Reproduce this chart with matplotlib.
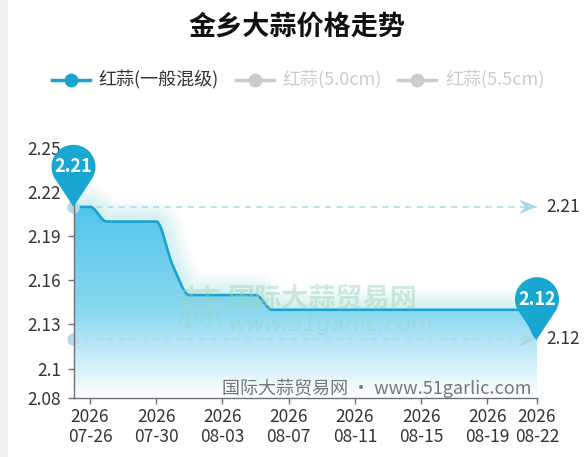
import numpy as np
import pandas as pd
import matplotlib
matplotlib.use('Agg')
import matplotlib.pyplot as plt
import matplotlib.dates as mdates
import matplotlib.transforms as mtransforms
from matplotlib.path import Path
from matplotlib.patches import PathPatch, Polygon, Rectangle
from matplotlib.colors import LinearSegmentedColormap

plt.rcParams['font.family'] = ['Noto Sans CJK SC', 'DejaVu Sans']

# ---------------- data ----------------
title = "金乡大蒜价格走势"
series_names = ["红蒜(一般混级)", "红蒜(5.0cm)", "红蒜(5.5cm)"]
dates = ["2026-07-25", "2026-07-26", "2026-07-27", "2026-07-28", "2026-07-29",
         "2026-07-30", "2026-07-31", "2026-08-01", "2026-08-02", "2026-08-03",
         "2026-08-04", "2026-08-05", "2026-08-06", "2026-08-07", "2026-08-08",
         "2026-08-09", "2026-08-10", "2026-08-11", "2026-08-12", "2026-08-13",
         "2026-08-14", "2026-08-15", "2026-08-16", "2026-08-17", "2026-08-18",
         "2026-08-19", "2026-08-20", "2026-08-21", "2026-08-22"]
prices = [2.21, 2.21, 2.20, 2.20, 2.20, 2.20, 2.17, 2.15, 2.15, 2.15,
          2.15, 2.15, 2.14, 2.14, 2.14, 2.14, 2.14, 2.14, 2.14, 2.14,
          2.14, 2.14, 2.14, 2.14, 2.14, 2.14, 2.14, 2.14, 2.12]
xtick_dates = ["2026-07-26", "2026-07-30", "2026-08-03", "2026-08-07",
               "2026-08-11", "2026-08-15", "2026-08-19", "2026-08-22"]
yticks = [2.08, 2.1, 2.13, 2.16, 2.19, 2.22, 2.25]
ytick_labels = ["2.08", "2.1", "2.13", "2.16", "2.19", "2.22", "2.25"]
watermark_cn = "国际大蒜贸易网"
watermark_url = "www.51garlic.com"
source_text = "国际大蒜贸易网 • www.51garlic.com"

# ---------------- styles ----------------
W, H = 588, 457
LINE_C = '#1aa3cc'
PIN_C = '#17a7d0'
MARK_C = '#a9d9e8'
INACTIVE = '#cccccc'

fig = plt.figure(figsize=(W / 100, H / 100), dpi=100)
fig.patch.set_facecolor('white')

def fx(x):
    return x / W

def fy(y):
    return 1 - y / H

ax = fig.add_axes([fx(73.5), fy(398), fx(537) - fx(73.5), fy(148) - fy(398)])
ax.set_facecolor('none')

x = mdates.date2num(pd.to_datetime(dates))
y = np.array(prices)

# monotone cubic (PCHIP) smoothing
def pchip(xk, yk, xn):
    xk = np.asarray(xk, float); yk = np.asarray(yk, float)
    h = np.diff(xk); d = np.diff(yk) / h
    n = len(xk)
    m = np.zeros(n)
    for k in range(1, n - 1):
        if d[k - 1] * d[k] > 0:
            w1 = 2 * h[k] + h[k - 1]
            w2 = h[k] + 2 * h[k - 1]
            m[k] = (w1 + w2) / (w1 / d[k - 1] + w2 / d[k])
    m[0] = 0.0
    m[-1] = d[-1] * 0.5
    idx = np.clip(np.searchsorted(xk, xn) - 1, 0, n - 2)
    t = (xn - xk[idx]) / h[idx]
    h00 = 2 * t**3 - 3 * t**2 + 1
    h10 = t**3 - 2 * t**2 + t
    h01 = -2 * t**3 + 3 * t**2
    h11 = t**3 - t**2
    return h00 * yk[idx] + h10 * h[idx] * m[idx] + h01 * yk[idx + 1] + h11 * h[idx] * m[idx + 1]

xs = np.linspace(x[0], x[-1], 1500)
ys = pchip(x, y, xs)

ymin, ymax = 2.08, 2.25

# soft glow around line (drawn first, under fill)
for lw in np.arange(4, 34, 2):
    ax.plot(xs, ys, color='#7fd4ee', lw=lw, alpha=0.022,
            solid_capstyle='round', solid_joinstyle='round', zorder=1)

# gradient area fill
cmap = LinearSegmentedColormap.from_list(
    'area', [(0.0, '#50c5ea'), (0.55, '#8ad8f1'), (1.0, '#ffffff')])
grad = np.linspace(0, 1, 256).reshape(-1, 1)
im = ax.imshow(grad, extent=[x[0], x[-1], ymin, y.max()], aspect='auto',
               cmap=cmap, origin='upper', zorder=2, interpolation='bicubic')
verts = np.column_stack([np.r_[xs, x[-1], x[0]], np.r_[ys, ymin, ymin]])
clip = Polygon(verts, closed=True, facecolor='none', edgecolor='none',
               transform=ax.transData)
ax.add_patch(clip)
im.set_clip_path(clip)

ax.plot(xs, ys, color=LINE_C, lw=1.9, zorder=4, solid_capstyle='round')

ax.set_xlim(x[0], x[-1])
ax.set_ylim(ymin, ymax)

# axes styling
for s in ['top', 'right']:
    ax.spines[s].set_visible(False)
for s in ['left', 'bottom']:
    ax.spines[s].set_color('#6e7079')
    ax.spines[s].set_linewidth(1.0)
    ax.spines[s].set_zorder(6)
ax.set_yticks(yticks)
ax.set_yticklabels(ytick_labels)
xt = mdates.date2num(pd.to_datetime(xtick_dates))
ax.set_xticks(xt)
ax.set_xticklabels([d[:4] + "\n" + d[5:] for d in xtick_dates], linespacing=1.15)
ax.tick_params(axis='both', colors='#6e7079', labelcolor='#333333',
               labelsize=12.5, length=4, width=1)
ax.tick_params(axis='y', pad=5)
ax.tick_params(axis='x', pad=3)

fig.canvas.draw()

def disp(xv, yv):
    return ax.transData.transform((xv, yv))

# mark lines (max / min)
imax = int(np.argmax(y)); imin = int(len(y) - 1 - np.argmin(y[::-1]))
for val in [y.max(), y.min()]:
    ax.plot([x[0], x[-1]], [val, val], color=MARK_C, lw=1.1,
            dashes=(4, 3.5), zorder=3, clip_on=False)
    ax.plot([x[0]], [val], 'o', ms=9, color='#b3dae6', mec='none', zorder=5,
            clip_on=False)
    px, py = disp(x[-1], val)
    arrow = np.array([[0, 0], [-18, 7.5], [-12, 0], [-18, -7.5]])
    tr = mtransforms.Affine2D().translate(px, py)
    ax.add_patch(Polygon(arrow, closed=True, facecolor='#a9d9e8',
                         edgecolor='none', transform=tr, zorder=5,
                         clip_on=False))
    ax.annotate(f"{val:.2f}", xy=(x[-1], val), xytext=(9, 0),
                textcoords='offset pixels', ha='left', va='center',
                fontsize=12.5, color='#333333', annotation_clip=False)

# pins (mark points)
def pin_path(r=22.0, h=40.0):
    ca = np.degrees(np.arccos(r / h))
    a0 = -90 + ca
    a1 = 270 - ca
    ang = np.radians(np.linspace(a0, a1, 80))
    cx, cy = 0, h
    pts = [(0, 0)]
    pts += [(cx + r * np.cos(t), cy + r * np.sin(t)) for t in ang]
    pts.append((0, 0))
    return Path(pts, closed=True)

for i in [imax, imin]:
    px, py = disp(x[i], y[i])
    tr = mtransforms.Affine2D().translate(px, py)
    ax.add_patch(PathPatch(pin_path(), facecolor=PIN_C, edgecolor='none',
                           transform=tr, zorder=8, clip_on=False))
    ax.annotate(f"{y[i]:.2f}", xy=(x[i], y[i]), xytext=(0, 40),
                textcoords='offset pixels', ha='center', va='center',
                fontsize=13, fontweight='bold', color='white', zorder=9,
                annotation_clip=False)

# watermark
fig.text(fx(199), fy(312), "蒜", fontsize=34, color='#9fd2b8', alpha=0.4,
         ha='center', va='center', zorder=10)
fig.text(fx(228), fy(299), watermark_cn, fontsize=19.5, color='#9fd2b8',
         alpha=0.45, ha='left', va='center', fontweight='bold', zorder=10)
fig.text(fx(228), fy(325), watermark_url, fontsize=16, color='#9fd2b8',
         alpha=0.45, ha='left', va='center', style='italic',
         family=['DejaVu Sans'], zorder=10)

# source text
fig.text(fx(531), fy(388), source_text, fontsize=13, color='#777777',
         ha='right', va='center', zorder=10)

# title
fig.text(fx(297), fy(27), title, fontsize=19.5, fontweight='bold',
         color='#111111', ha='center', va='center')

# legend
leg_items = [(52, 98, LINE_C, '#333333'), (236, 282, INACTIVE, INACTIVE),
             (398, 445, INACTIVE, INACTIVE)]
for (lx, tx, c, tc), name in zip(leg_items, series_names):
    fig.add_artist(plt.Line2D([fx(lx), fx(lx + 38)], [fy(80), fy(80)],
                              color=c, lw=2.5, transform=fig.transFigure))
    fig.add_artist(plt.Line2D([fx(lx + 19)], [fy(80)], marker='o', ms=10,
                              color=c, mec='none', transform=fig.transFigure))
    fig.text(fx(tx), fy(80), name, fontsize=13, color=tc, ha='left',
             va='center')

# light left border strip
fig.add_artist(Rectangle((0, 0), fx(8), 1, transform=fig.transFigure,
                         facecolor='#efefef', edgecolor='none', zorder=0))

fig.savefig('out.png', dpi=100, facecolor='white')
